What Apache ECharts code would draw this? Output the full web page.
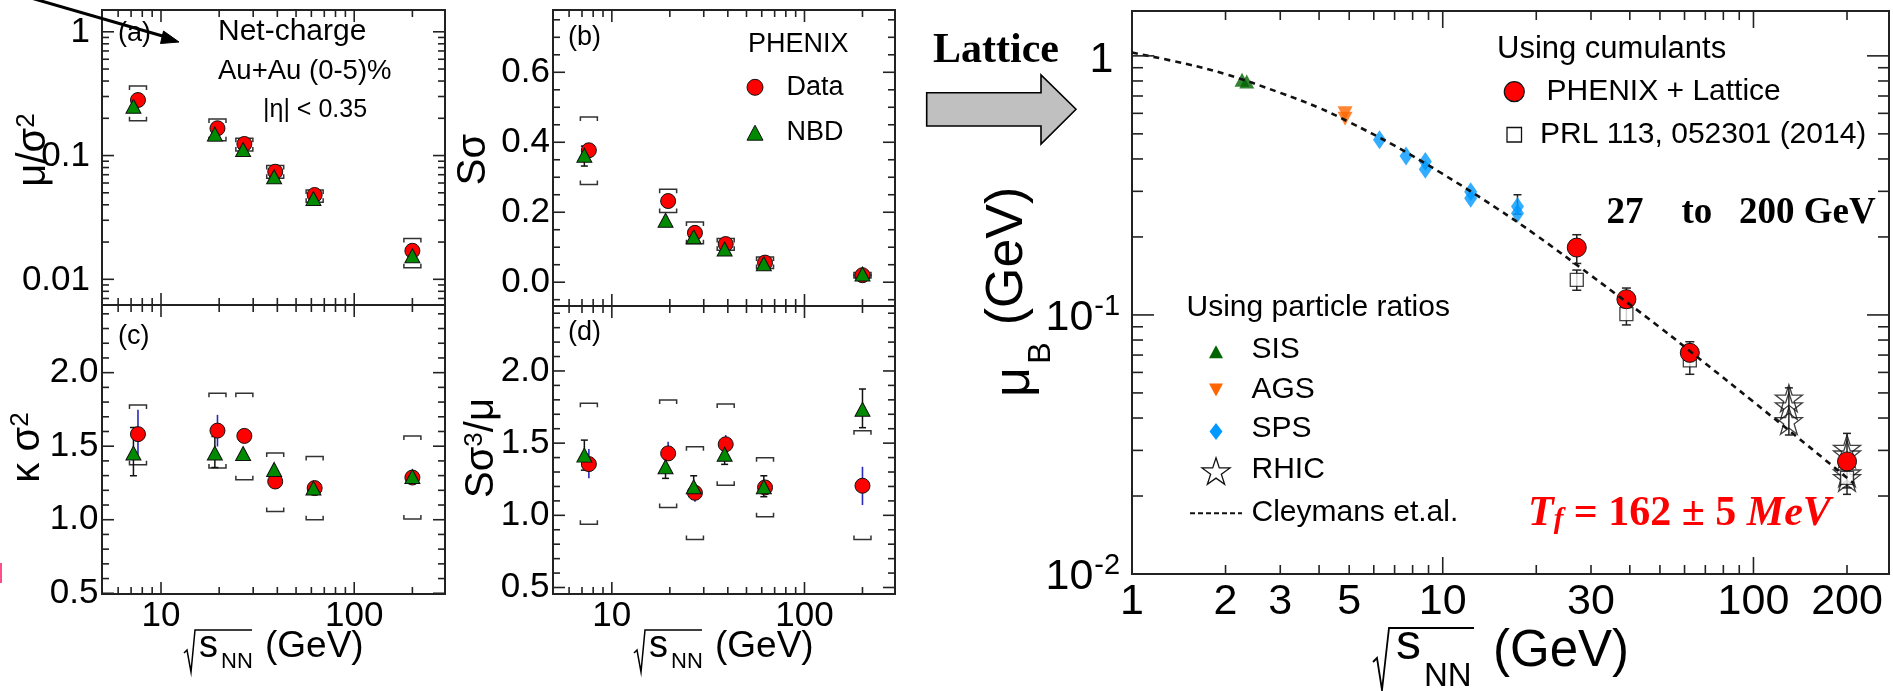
<!DOCTYPE html>
<html><head><meta charset="utf-8">
<script src="https://cdn.jsdelivr.net/npm/echarts@6/dist/echarts.min.js"></script>
<style>html,body{margin:0;padding:0;background:#fff}#c{width:1893px;height:691px}</style>
</head><body><div id="c"></div>
<script>
// ================= DATA =================
// PHENIX beam energies (GeV) for Data and (slightly offset) NBD points
const energies = [7.6, 19.6, 27, 39, 62.4, 200];
const nbdEnergies = [7.2, 19.0, 26.6, 38.5, 61.5, 200];

// (a) mu/sigma^2
const aData = [0.281, 0.166, 0.124, 0.074, 0.048, 0.0170];
const aNbd  = [0.250, 0.149, 0.112, 0.0675, 0.045, 0.0155];
const aSysLo = [0.191, 0.132, 0.109, 0.0655, 0.042, 0.0124];
const aSysHi = [0.364, 0.197, 0.138, 0.083, 0.0527, 0.0214];

// (b) S sigma
const bData = [0.377, 0.232, 0.141, 0.109, 0.056, 0.020];
const bNbd  = [0.363, 0.177, 0.130, 0.095, 0.053, 0.0235];
const bSysLo = [0.279, 0.199, 0.110, 0.091, 0.039, 0.012];
const bSysHi = [0.472, 0.266, 0.172, 0.125, 0.072, 0.028];
const bNbdErr = [[0.332, 0.389], null, null, null, null, null];

// (c) kappa sigma^2
const cData = [1.582, 1.606, 1.570, 1.260, 1.215, 1.287];
const cNbd  = [1.453, 1.453, 1.450, 1.342, 1.215, 1.294];
const cSysLo = [1.373, 1.351, 1.272, 1.056, 1.000, 1.005];
const cSysHi = [1.780, 1.860, 1.860, 1.453, 1.430, 1.570];
const cDataErr = [[1.441, 1.747], [1.498, 1.713], null, null, null, null];
const cNbdErr  = [[1.299, 1.627], [1.355, 1.566], null, null, null, null];

// (d) S sigma^3 / mu
const dData = [1.355, 1.429, 1.156, 1.492, 1.193, 1.205];
const dNbd  = [1.417, 1.336, 1.198, 1.423, 1.198, 1.735];
const dSysLo = [0.939, 1.055, 0.833, 1.209, 0.990, 0.833];
const dSysHi = [1.776, 1.799, 1.475, 1.771, 1.399, 1.586];
const dDataErr = [[1.256, 1.459], [1.383, 1.510], [1.094, 1.210], [1.429, 1.556], null, [1.071, 1.336]];
const dNbdErr  = [[1.313, 1.521], [1.256, 1.424], [1.129, 1.274], [1.353, 1.487], [1.129, 1.274], [1.607, 1.875]];

// Right panel: mu_B vs sqrt(s_NN)
const sisX = [2.26, 2.34];           const sisY = [0.808, 0.796];
const agsX = [4.85, 4.85];           const agsY = [0.600, 0.572];
const spsX = [6.26, 7.62, 8.79, 8.79, 12.3, 12.3, 17.4, 17.4];
const spsY = [0.474, 0.411, 0.391, 0.365, 0.299, 0.282, 0.262, 0.247];
const spsErr = [null, null, null, null, null, null, [0.245, 0.291], null];
const rhicX = [130, 130, 130, 200, 200, 200, 200];
const rhicY = [0.0477, 0.0445, 0.039, 0.0305, 0.029, 0.0245, 0.0235];
const rhicErr = [null, [0.0344, 0.0523], null, null, [0.0203, 0.0349], null, null];
const phenixX = [27, 39, 62.4, 200];
const phenixY = [0.182, 0.115, 0.0714, 0.0272];
const phenixErr = [[0.158, 0.204], [0.1065, 0.127], [0.066, 0.0788], [0.0255, 0.029]];
const prlX = [27, 39, 62.4, 200];
const prlY = [0.1365, 0.1007, 0.0668, 0.0235];
const prlErr = [[0.1245, 0.149], [0.0915, 0.111], [0.059, 0.075], [0.0215, 0.026]];
const curveX = [1, 1.5, 2, 3, 4, 5, 7, 10, 15, 20, 30, 50, 70, 100, 150, 210];
const curveY = [1.03, 0.93, 0.85, 0.72, 0.63, 0.555, 0.45, 0.35, 0.257, 0.203, 0.142, 0.0895, 0.065, 0.0462, 0.0312, 0.0224];

// Ticks & tick labels
const leftXMajor = [10, 100];
const leftXMinor = [6, 7, 8, 9, 20, 30, 40, 50, 60, 70, 80, 90, 200];
const leftXLabelVals = [10, 100];
const leftXLabels = ['10', '100'];
const aYMajor = [0.01, 0.1, 1];
const aYMinor = [0.007, 0.008, 0.009, 0.02, 0.03, 0.04, 0.05, 0.06, 0.07, 0.08, 0.09, 0.2, 0.3, 0.4, 0.5, 0.6, 0.7, 0.8, 0.9];
const aYLabels = ['0.01', '0.1', '1'];
const bYMajor = [0, 0.2, 0.4, 0.6];
const bYMinor = [-0.05, 0.05, 0.1, 0.15, 0.25, 0.3, 0.35, 0.45, 0.5, 0.55, 0.65, 0.7, 0.75];
const bYLabels = ['0.0', '0.2', '0.4', '0.6'];
const cdYMajor = [0.5, 1.0, 1.5, 2.0];
const cdYMinor = [0.6, 0.7, 0.8, 0.9, 1.1, 1.2, 1.3, 1.4, 1.6, 1.7, 1.8, 1.9, 2.1, 2.2, 2.3, 2.4];
const cdYLabels = ['0.5', '1.0', '1.5', '2.0'];
const rXMajor = [10, 100];
const rXMinor = [2, 3, 4, 5, 6, 7, 8, 9, 20, 30, 40, 50, 60, 70, 80, 90, 200];
const rXLabelVals = [1, 2, 3, 5, 10, 30, 100, 200];
const rXLabels = ['1', '2', '3', '5', '10', '30', '100', '200'];
const rYMajor = [0.01, 0.1, 1];
const rYMinor = [0.02, 0.03, 0.04, 0.05, 0.06, 0.07, 0.08, 0.09, 0.2, 0.3, 0.4, 0.5, 0.6, 0.7, 0.8, 0.9];
const rYLabelBase = ['10', '10', '1'];
const rYLabelSup = ['-2', '-1', ''];

// ================= LAYOUT =================
const FONT = '"Liberation Sans", Arial, Helvetica, sans-serif';
const SERIF = '"Liberation Serif", "Times New Roman", serif';
const grids = [
  {left: 102, top: 10, width: 343, height: 295},   // a
  {left: 553, top: 10, width: 342, height: 296},   // b
  {left: 102, top: 305, width: 343, height: 289},  // c
  {left: 553, top: 306, width: 342, height: 288},  // d
  {left: 1132, top: 11, width: 757, height: 563}   // right
];
const xRanges = [[4.95, 295], [4.95, 295], [4.95, 295], [4.95, 295], [1, 273]];
const yRanges = [[0.0062, 1.5], [-0.068, 0.778], [0.495, 2.46], [0.455, 2.45], [0.01, 1.49]];
const yTypes = ['log', 'value', 'value', 'value', 'log'];

function zip(xs, ys) { return xs.map((x, i) => [x, ys[i]]); }
function loHi(xs, lo, hi) { return xs.map((x, i) => [x, lo[i], hi[i]]); }
function errData(xs, errs) { const o = []; errs.forEach((e, i) => { if (e) o.push([xs[i], e[0], e[1]]); }); return o; }

function ln(x1, y1, x2, y2, stroke, w) {
  return {type: 'line', shape: {x1, y1, x2, y2}, style: {stroke: stroke || '#222', lineWidth: w || 1.6}};
}

function tickSeries(gi, xMaj, xMin, yMaj, yMin, lens) {
  const xr = xRanges[gi], yr = yRanges[gi];
  const data = [];
  xMaj.forEach(v => data.push([v, yr[0], 0, 1]));
  xMin.forEach(v => data.push([v, yr[0], 0, 0]));
  yMaj.forEach(v => data.push([xr[0], v, 1, 1]));
  yMin.forEach(v => data.push([xr[0], v, 1, 0]));
  return {
    type: 'custom', xAxisIndex: gi, yAxisIndex: gi, silent: true, z: 10, clip: false, data,
    renderItem(params, api) {
      const isY = api.value(2), major = api.value(3);
      if (!isY) {
        const v = api.value(0);
        const pb = api.coord([v, yr[0]]), pt = api.coord([v, yr[1]]);
        const L = major ? lens[0] : lens[1];
        return {type: 'group', children: [ln(pb[0], pb[1], pb[0], pb[1] - L), ln(pt[0], pt[1], pt[0], pt[1] + L)]};
      }
      const v = api.value(1);
      const pl = api.coord([xr[0], v]), pr = api.coord([xr[1], v]);
      const L = major ? lens[2] : lens[3];
      return {type: 'group', children: [ln(pl[0], pl[1], pl[0] + L, pl[1]), ln(pr[0], pr[1], pr[0] - L, pr[1])]};
    }
  };
}

function txtStyle(text, size, align, valign, extra) {
  return Object.assign({text, fontSize: size, fontFamily: FONT, fill: '#000',
    align: align, textAlign: align, verticalAlign: valign, textVerticalAlign: valign}, extra || {});
}

// defs: {isY, v, t, s}
function labelSeries(gi, defs, cfg) {
  const xr = xRanges[gi], yr = yRanges[gi];
  const data = defs.map((d, k) => d.isY ? [xr[0], d.v, k] : [d.v, yr[0], k]);
  return {
    type: 'custom', xAxisIndex: gi, yAxisIndex: gi, silent: true, z: 10, clip: false, data,
    renderItem(params, api) {
      const d = defs[api.value(2)];
      if (!d.isY) {
        const p = api.coord([d.v, yr[0]]);
        return {type: 'text', x: p[0], y: p[1] + cfg.xOff, style: txtStyle(d.t, cfg.xSize, 'center', 'middle')};
      }
      const p = api.coord([xr[0], d.v]);
      if (d.s) {
        return {type: 'group', children: [
          {type: 'text', x: p[0] - cfg.supOff, y: p[1] + 3, style: txtStyle(d.t, cfg.ySize, 'right', 'middle')},
          {type: 'text', x: p[0] - cfg.supOff + 1, y: p[1] - 8, style: txtStyle(d.s, cfg.supSize, 'left', 'middle')}
        ]};
      }
      return {type: 'text', x: p[0] - cfg.yOff, y: p[1] + (cfg.yDy || 0), style: txtStyle(d.t, cfg.ySize, 'right', 'middle')};
    }
  };
}

function errSeries(gi, data, color, cap, width) {
  return {
    type: 'custom', xAxisIndex: gi, yAxisIndex: gi, silent: true, clip: false, data,
    encode: {x: 0, y: [1, 2]},
    renderItem(params, api) {
      const x = api.value(0);
      const p1 = api.coord([x, api.value(1)]), p2 = api.coord([x, api.value(2)]);
      const ch = [ln(p1[0], p1[1], p2[0], p2[1], color, width)];
      if (cap) {
        ch.push(ln(p1[0] - cap, p1[1], p1[0] + cap, p1[1], color, width));
        ch.push(ln(p2[0] - cap, p2[1], p2[0] + cap, p2[1], color, width));
      }
      return {type: 'group', children: ch};
    }
  };
}

function bracketSeries(gi, data) {
  const half = 8.5, tk = 4;
  return {
    type: 'custom', xAxisIndex: gi, yAxisIndex: gi, silent: true, clip: false, data,
    encode: {x: 0, y: [1, 2]},
    renderItem(params, api) {
      const x = api.value(0);
      const pl = api.coord([x, api.value(1)]), ph = api.coord([x, api.value(2)]);
      const cx = pl[0];
      const st = () => ({stroke: '#333', lineWidth: 1.5, fill: null});
      return {type: 'group', children: [
        {type: 'polyline', shape: {points: [[cx - half, ph[1] + tk], [cx - half, ph[1]], [cx + half, ph[1]], [cx + half, ph[1] + tk]]}, style: st()},
        {type: 'polyline', shape: {points: [[cx - half, pl[1] - tk], [cx - half, pl[1]], [cx + half, pl[1]], [cx + half, pl[1] - tk]]}, style: st()}
      ]};
    }
  };
}

function scat(gi, data, symbol, size, color, extra) {
  return Object.assign({
    type: 'scatter', xAxisIndex: gi, yAxisIndex: gi, data, symbol, symbolSize: size, silent: true,
    itemStyle: {color, borderColor: '#111', borderWidth: 1, opacity: 1}
  }, extra || {});
}

const RED = '#ff0000', GREEN = '#008a00';
const STAR = 'path://M50,0 L61.8,35.3 L98.9,35.3 L68.9,57.1 L80.3,92.4 L50,70.5 L19.7,92.4 L31.1,57.1 L1.1,35.3 L38.2,35.3 Z';

const series = [];
// Left panels
const leftSets = [
  {gi: 0, data: aData, nbd: aNbd, lo: aSysLo, hi: aSysHi, dErr: null, nErr: null},
  {gi: 1, data: bData, nbd: bNbd, lo: bSysLo, hi: bSysHi, dErr: null, nErr: bNbdErr},
  {gi: 2, data: cData, nbd: cNbd, lo: cSysLo, hi: cSysHi, dErr: cDataErr, nErr: cNbdErr},
  {gi: 3, data: dData, nbd: dNbd, lo: dSysLo, hi: dSysHi, dErr: dDataErr, nErr: dNbdErr}
];
leftSets.forEach(s => {
  series.push(bracketSeries(s.gi, loHi(energies, s.lo, s.hi)));
  if (s.dErr) series.push(errSeries(s.gi, errData(energies, s.dErr), '#2a2ab8', 0, 1.6));
  series.push(scat(s.gi, zip(energies, s.data), 'circle', 15, RED));
  if (s.nErr) series.push(errSeries(s.gi, errData(nbdEnergies, s.nErr), '#111', 3.5, 1.5));
  series.push(scat(s.gi, zip(nbdEnergies, s.nbd), 'triangle', [15, 14], GREEN));
});
// Right panel
series.push(scat(4, zip(sisX, sisY), 'triangle', [15, 14], '#006400', {itemStyle: {color: '#006400'}}));
series.push(scat(4, zip(agsX, agsY), 'triangle', [15, 14], '#ff6600', {symbolRotate: 180, itemStyle: {color: '#ff6600'}}));
series.push(scat(4, zip(spsX, spsY), 'diamond', [13, 19], '#0099ff', {itemStyle: {color: '#0099ff'}}));
series.push(scat(4, zip(rhicX, rhicY), STAR, 27, 'rgba(255,255,255,0)', {itemStyle: {color: 'rgba(255,255,255,0)', borderColor: '#111', borderWidth: 1.3}}));
series.push(scat(4, zip(prlX, prlY), 'rect', 13, '#fff', {itemStyle: {color: '#fff', borderColor: '#111', borderWidth: 1.3}}));
series.push(scat(4, zip(phenixX, phenixY), 'circle', 19, RED));
series.push(errSeries(4, errData(spsX, spsErr), '#222', 4, 1.5));
series.push(errSeries(4, errData(rhicX, rhicErr), '#222', 4, 1.5));
series.push(errSeries(4, errData(prlX, prlErr), '#222', 4.5, 1.5));
series.push(errSeries(4, errData(phenixX, phenixErr), '#222', 4.5, 1.5));
series.push({type: 'line', xAxisIndex: 4, yAxisIndex: 4, data: zip(curveX, curveY), showSymbol: false, symbol: 'none',
  smooth: 0.4, silent: true, lineStyle: {color: '#111', width: 2.6, type: [6, 5]}});

// Ticks
for (let gi = 0; gi < 4; gi++) {
  const yMaj = gi === 0 ? aYMajor : gi === 1 ? bYMajor : cdYMajor;
  const yMin = gi === 0 ? aYMinor : gi === 1 ? bYMinor : cdYMinor;
  series.push(tickSeries(gi, leftXMajor, leftXMinor, yMaj, yMin, [12, 7, 12, 7]));
}
series.push(tickSeries(4, rXMajor, rXMinor, rYMajor, rYMinor, [17, 9, 22, 11]));

// Tick labels
series.push(labelSeries(0, aYMajor.map((v, k) => ({isY: 1, v, t: aYLabels[k]})), {yOff: 12, ySize: 35, yDy: 1}));
series.push(labelSeries(1, bYMajor.map((v, k) => ({isY: 1, v, t: bYLabels[k]})), {yOff: 3, ySize: 35}));
[2, 3].forEach(gi => {
  const defs = cdYMajor.map((v, k) => ({isY: 1, v, t: cdYLabels[k]}))
    .concat(leftXLabelVals.map((v, k) => ({isY: 0, v, t: leftXLabels[k]})));
  series.push(labelSeries(gi, defs, {yOff: 3.5, ySize: 35, xOff: 22.7, xSize: 35}));
});
{
  const defs = rXLabelVals.map((v, k) => ({isY: 0, v, t: rXLabels[k]}))
    .concat(rYMajor.map((v, k) => ({isY: 1, v, t: rYLabelBase[k], s: rYLabelSup[k]})));
  series.push(labelSeries(4, defs, {xOff: 28.5, xSize: 43, yOff: 18.7, ySize: 43, yDy: 4, supOff: 38.7, supSize: 29}));
}

// ================= GRAPHICS (text, legends, arrows) =================
function T(x, y, text, size, opts) {
  opts = opts || {};
  return {type: 'text', x, y, rotation: opts.rot || 0, z: 100, silent: true,
    style: Object.assign(txtStyle(text, size, opts.align || 'left', opts.valign || 'middle'),
      {fontFamily: opts.family || FONT, fontWeight: opts.weight || 'normal', fontStyle: opts.style || 'normal', fill: opts.fill || '#000'}, opts.extra || {})};
}
function starPts(cx, cy, R) {
  const pts = [];
  for (let k = 0; k < 10; k++) {
    const a = (-90 + k * 36) * Math.PI / 180, r = k % 2 ? R * 0.382 : R;
    pts.push([cx + r * Math.cos(a), cy + r * Math.sin(a)]);
  }
  return pts;
}
function tri(cx, cy, w, h, down) {
  return down ? [[cx - w / 2, cy - h / 2], [cx + w / 2, cy - h / 2], [cx, cy + h / 2]]
              : [[cx, cy - h / 2], [cx + w / 2, cy + h / 2], [cx - w / 2, cy + h / 2]];
}
function richRot(x, y, text, rich) {
  return {type: 'text', x, y, rotation: Math.PI / 2, z: 100, silent: true,
    style: {text, rich, align: 'center', textAlign: 'center', verticalAlign: 'middle', textVerticalAlign: 'middle'}};
}
function R(size, extra) { return Object.assign({fontSize: size, fontFamily: FONT, fill: '#000', color: '#000'}, extra || {}); }
function sqrtTitle(dx) {
  return [
    {type: 'polyline', z: 100, silent: true, shape: {points: [[184 + dx, 653], [187 + dx, 650], [191 + dx, 672], [195 + dx, 630], [252 + dx, 630]]}, style: {stroke: '#000', lineWidth: 1.5, fill: null}},
    T(199 + dx, 647, 's', 38),
    T(221 + dx, 662, 'NN', 22),
    T(265 + dx, 647, '(GeV)', 37)
  ];
}
const gfx = [];
// top-left arrow
gfx.push({type: 'line', z: 100, silent: true, shape: {x1: 31, y1: -2, x2: 166, y2: 37}, style: {stroke: '#000', lineWidth: 3}});
gfx.push({type: 'polygon', z: 100, silent: true, shape: {points: [[179, 42], [163.5, 31], [160.5, 43.5]]}, style: {fill: '#000', stroke: '#000', lineWidth: 1}});
// pink mark at left edge
gfx.push({type: 'rect', z: 100, silent: true, shape: {x: 0, y: 563, width: 2, height: 20}, style: {fill: '#ff4f8a'}});
// panel a texts
gfx.push(T(118, 34, '(a)', 27));
gfx.push(T(218, 31.5, 'Net-charge', 30));
gfx.push(T(218, 71, 'Au+Au (0-5)%', 27.5));
gfx.push(T(263, 110, '|η| < 0.35', 25));
// panel b texts / legend
gfx.push(T(568, 38, '(b)', 27));
gfx.push(T(748, 45, 'PHENIX', 27));
gfx.push({type: 'circle', z: 100, silent: true, shape: {cx: 755, cy: 87.3, r: 8}, style: {fill: RED, stroke: '#111', lineWidth: 1}});
gfx.push(T(786.5, 87.5, 'Data', 27));
gfx.push({type: 'polygon', z: 100, silent: true, shape: {points: tri(755, 132.7, 16, 15)}, style: {fill: GREEN, stroke: '#111', lineWidth: 1}});
gfx.push(T(786.5, 132.7, 'NBD', 27));
gfx.push(T(118, 336.7, '(c)', 27));
gfx.push(T(568, 333, '(d)', 27));
// left y-axis titles
gfx.push(richRot(34, 150, '{m|μ/σ}{s|2}', {m: R(40), s: R(26, {verticalAlign: 'top'})}));
gfx.push(richRot(474, 159.5, '{m|Sσ}', {m: R(40)}));
gfx.push(richRot(28, 447.5, '{m|κ σ}{s|2}', {m: R(40), s: R(26, {verticalAlign: 'top'})}));
gfx.push(richRot(482, 448, '{m|Sσ}{s|3}{m|/μ}', {m: R(40), s: R(26, {verticalAlign: 'top'})}));
// left x-axis titles
sqrtTitle(0).forEach(e => gfx.push(e));
sqrtTitle(450).forEach(e => gfx.push(e));
// Lattice + gray arrow
gfx.push(T(933, 51, 'Lattice', 42, {family: SERIF, weight: 'bold'}));
gfx.push({type: 'polygon', z: 100, silent: true, shape: {points: [[926.7, 92.7], [1041, 92.7], [1041, 75], [1076, 109.3], [1041, 144], [1041, 126], [926.7, 126]]}, style: {fill: '#c0c0c0', stroke: '#000', lineWidth: 1.6}});
// right y title
gfx.push(T(1015, 382, 'μ', 52, {rot: Math.PI / 2, align: 'center'}));
gfx.push(T(1041, 353, 'B', 32, {rot: Math.PI / 2, align: 'center'}));
gfx.push(T(1008, 256, '(GeV)', 52, {rot: Math.PI / 2, align: 'center'}));
// right x title
gfx.push({type: 'polyline', z: 100, silent: true, shape: {points: [[1373, 662], [1377, 658], [1382, 690], [1389, 628], [1474, 628]]}, style: {stroke: '#000', lineWidth: 1.8, fill: null}});
gfx.push(T(1396, 645, 's', 50));
gfx.push(T(1424, 677, 'NN', 33));
gfx.push(T(1493, 652, '(GeV)', 51));
// right legends
gfx.push(T(1497, 49, 'Using cumulants', 31));
gfx.push({type: 'circle', z: 100, silent: true, shape: {cx: 1514.3, cy: 91.7, r: 10}, style: {fill: RED, stroke: '#111', lineWidth: 1.2}});
gfx.push(T(1546.5, 91.5, 'PHENIX + Lattice', 30));
gfx.push({type: 'rect', z: 100, silent: true, shape: {x: 1507, y: 127.5, width: 14.5, height: 14.5}, style: {fill: '#fff', stroke: '#111', lineWidth: 1.3}});
gfx.push(T(1540, 135, 'PRL 113, 052301 (2014)', 30));
gfx.push(T(1606.5, 213.5, '27', 37, {family: SERIF, weight: 'bold'}));
gfx.push(T(1681.5, 213.5, 'to', 37, {family: SERIF, weight: 'bold'}));
gfx.push(T(1739, 213.5, '200 GeV', 37, {family: SERIF, weight: 'bold'}));
gfx.push(T(1186.5, 307.6, 'Using particle ratios', 30));
gfx.push({type: 'polygon', z: 100, silent: true, shape: {points: tri(1216, 351.7, 14, 13)}, style: {fill: '#006400'}});
gfx.push(T(1251.5, 349.6, 'SIS', 30));
gfx.push({type: 'polygon', z: 100, silent: true, shape: {points: tri(1216, 390, 14, 13, true)}, style: {fill: '#ff6600'}});
gfx.push(T(1251.5, 389.5, 'AGS', 30));
gfx.push({type: 'polygon', z: 100, silent: true, shape: {points: [[1216, 423], [1222.5, 431.5], [1216, 440], [1209.5, 431.5]]}, style: {fill: '#0099ff'}});
gfx.push(T(1251.5, 428.5, 'SPS', 30));
gfx.push({type: 'polygon', z: 100, silent: true, shape: {points: starPts(1216, 472.5, 14.7)}, style: {fill: 'none', stroke: '#111', lineWidth: 1.3}});
gfx.push(T(1251.5, 470, 'RHIC', 30));
gfx.push({type: 'line', z: 100, silent: true, shape: {x1: 1190, y1: 513.3, x2: 1242, y2: 513.3}, style: {stroke: '#111', lineWidth: 2, lineDash: [5, 3]}});
gfx.push(T(1251.5, 512.6, 'Cleymans et.al.', 30));
// T_f annotation
gfx.push({type: 'text', x: 1528, y: 514, z: 100, silent: true, style: {
  text: '{it|T}{sub|f}{b| = 162 ± 5 }{it|MeV}', align: 'left', textAlign: 'left', verticalAlign: 'middle', textVerticalAlign: 'middle',
  rich: {
    it: {fontSize: 42, fontFamily: SERIF, fontWeight: 'bold', fontStyle: 'italic', fill: '#f00', color: '#f00'},
    sub: {fontSize: 29, fontFamily: SERIF, fontWeight: 'bold', fontStyle: 'italic', fill: '#f00', color: '#f00', verticalAlign: 'bottom'},
    b: {fontSize: 42, fontFamily: SERIF, fontWeight: 'bold', fill: '#f00', color: '#f00'}
  }}});

// ================= OPTION =================
const option = {
  animation: false,
  backgroundColor: '#fff',
  grid: grids.map(g => Object.assign({show: true, borderColor: '#222', borderWidth: 2, backgroundColor: 'transparent', containLabel: false, outerBoundsMode: 'none'}, g)),
  xAxis: grids.map((g, i) => ({type: 'log', logBase: 10, gridIndex: i, min: xRanges[i][0], max: xRanges[i][1],
    axisLine: {show: false}, axisTick: {show: false}, axisLabel: {show: false}, splitLine: {show: false}, minorTick: {show: false}})),
  yAxis: grids.map((g, i) => ({type: yTypes[i], logBase: 10, gridIndex: i, min: yRanges[i][0], max: yRanges[i][1],
    axisLine: {show: false}, axisTick: {show: false}, axisLabel: {show: false}, splitLine: {show: false}, minorTick: {show: false}})),
  series,
  graphic: {elements: gfx}
};
const chart = echarts.init(document.getElementById('c'), null, {renderer: 'canvas', width: 1893, height: 691});
chart.setOption(option);
</script>
</body></html>
